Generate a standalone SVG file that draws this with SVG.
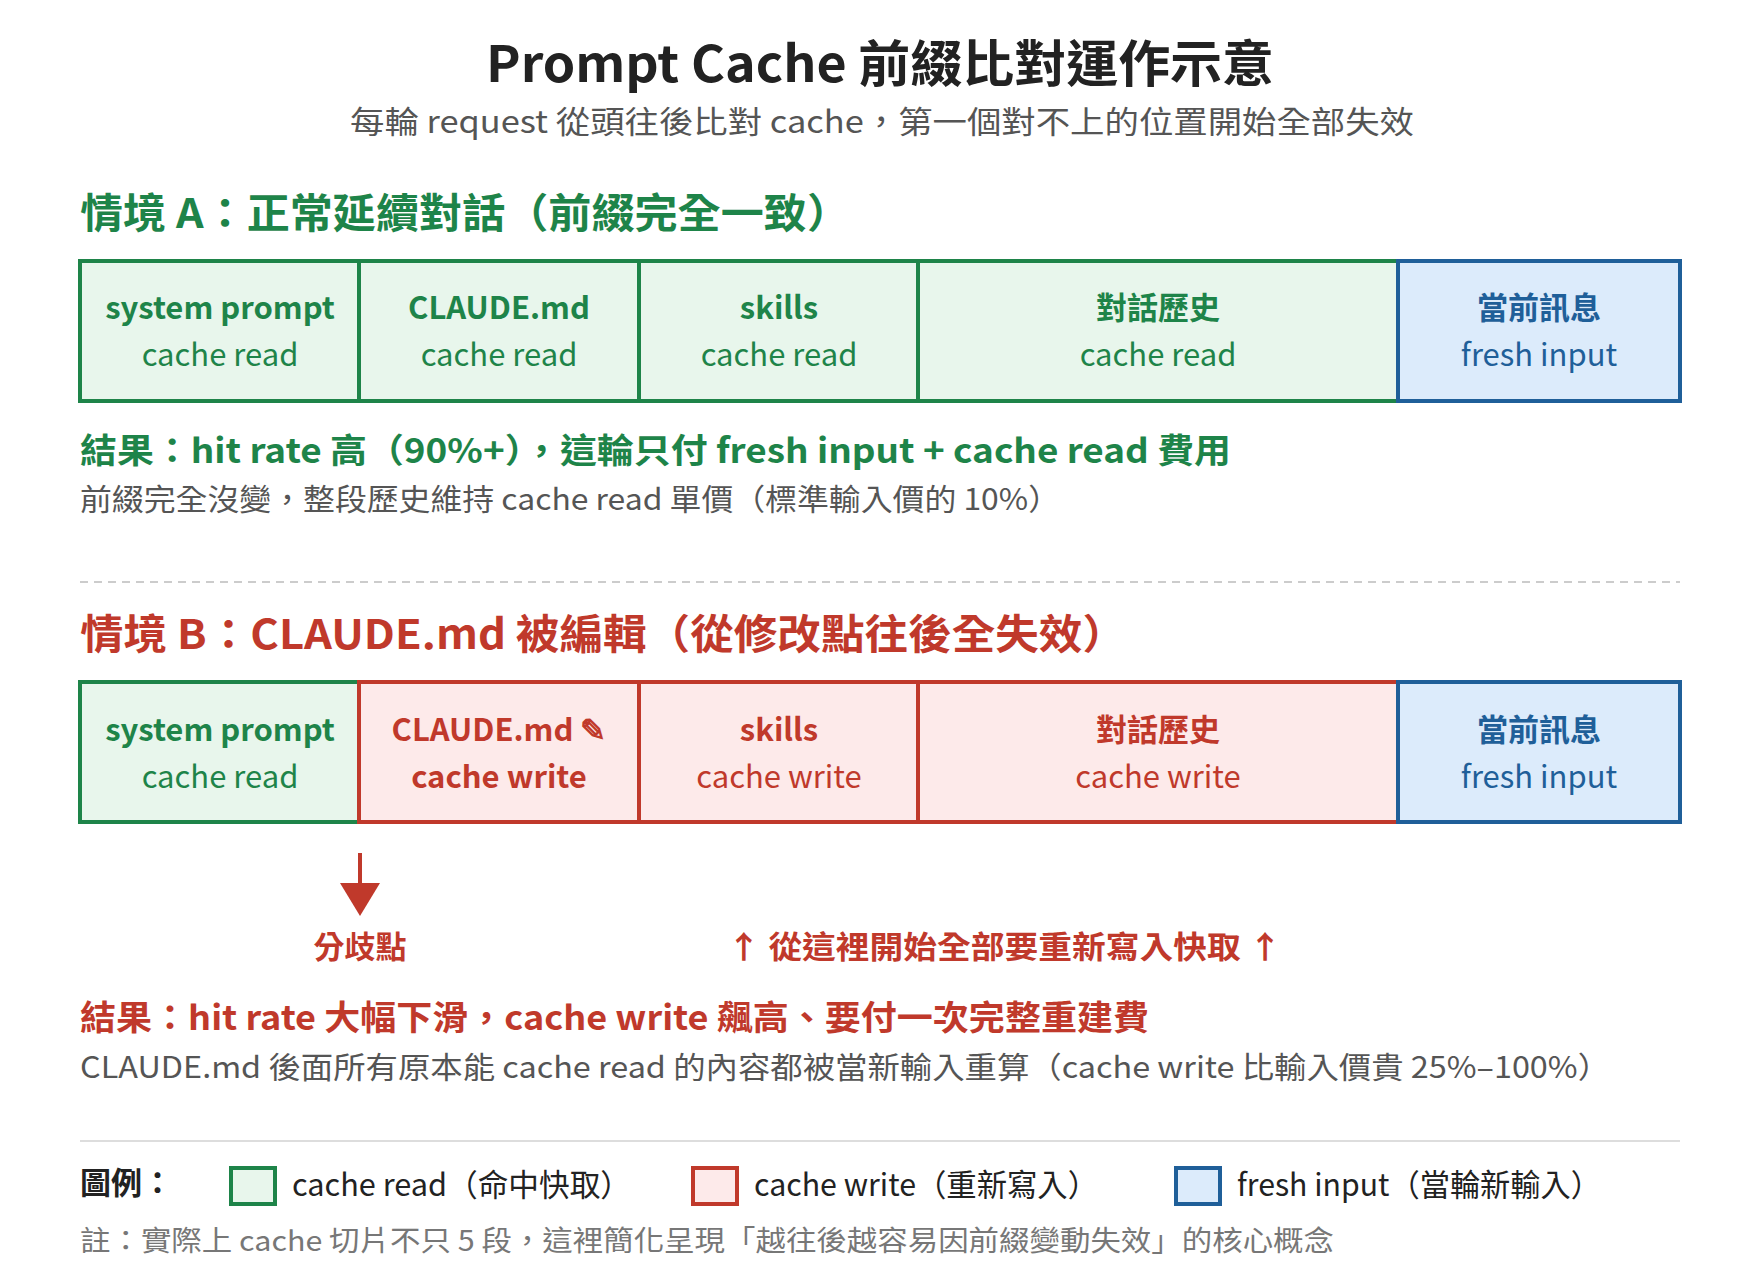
<svg xmlns="http://www.w3.org/2000/svg" width="1760" height="1280" viewBox="0 0 1760 1280">
<style>
text{font-family:"Noto Sans CJK TC","Noto Sans",sans-serif}
.g{fill:#e8f6ec;stroke:#1e8449;stroke-width:4}
.r{fill:#fdeaea;stroke:#c0392b;stroke-width:4}
.b{fill:#dcebfb;stroke:#1f5f99;stroke-width:4}
.t1{font-size:31px;font-weight:700;text-anchor:middle}
.t2{font-size:31px;text-anchor:middle}
.gt{fill:#1e8449}.rt{fill:#c0392b}.bt{fill:#1f5f99}
.gray{fill:#555}
</style>
<rect width="1760" height="1280" fill="#fff"/>
<text x="486" y="82" font-size="50" font-weight="700" fill="#222" textLength="788" lengthAdjust="spacingAndGlyphs">Prompt Cache 前綴比對運作示意</text>
<text x="350" y="133" font-size="31" class="gray" textLength="1064" lengthAdjust="spacingAndGlyphs">每輪 request 從頭往後比對 cache，第一個對不上的位置開始全部失效</text>
<text x="80" y="228" font-size="41" font-weight="700" class="gt" textLength="770" lengthAdjust="spacingAndGlyphs">情境 A：正常延續對話（前綴完全一致）</text>
<g id="a1"><rect class="g" x="80" y="261" width="279" height="140"/><text x="220" y="319" class="t1 gt">system prompt</text><text x="220" y="366" class="t2 gt">cache read</text></g>
<g id="a2"><rect class="g" x="359" y="261" width="280" height="140"/><text x="499" y="319" class="t1 gt">CLAUDE.md</text><text x="499" y="366" class="t2 gt">cache read</text></g>
<g id="a3"><rect class="g" x="639" y="261" width="279" height="140"/><text x="779" y="319" class="t1 gt">skills</text><text x="779" y="366" class="t2 gt">cache read</text></g>
<g id="a4"><rect class="g" x="918" y="261" width="480" height="140"/><text x="1158" y="319" class="t1 gt">對話歷史</text><text x="1158" y="366" class="t2 gt">cache read</text></g>
<g id="a5"><rect class="b" x="1398" y="261" width="282" height="140"/><text x="1539" y="319" class="t1 bt">當前訊息</text><text x="1539" y="366" class="t2 bt">fresh input</text></g>
<text x="80" y="463" font-size="34" font-weight="700" class="gt" textLength="1151" lengthAdjust="spacingAndGlyphs">結果：hit rate 高（90%+），這輪只付 fresh input + cache read 費用</text>
<text x="80" y="510" font-size="30" class="gray" textLength="980" lengthAdjust="spacingAndGlyphs">前綴完全沒變，整段歷史維持 cache read 單價（標準輸入價的 10%）</text>
<line x1="80" y1="582" x2="1680" y2="582" stroke="#ccc" stroke-width="2" stroke-dasharray="8 6"/>
<text x="80" y="649" font-size="41" font-weight="700" class="rt" textLength="1046" lengthAdjust="spacingAndGlyphs">情境 B：CLAUDE.md 被編輯（從修改點往後全失效）</text>
<g id="b1"><rect class="g" x="80" y="682" width="279" height="140"/><text x="220" y="741" class="t1 gt">system prompt</text><text x="220" y="788" class="t2 gt">cache read</text></g>
<g id="b2"><rect class="r" x="359" y="682" width="280" height="140"/><text x="499" y="741" class="t1 rt" font-weight="400">CLAUDE.md ✎</text><text x="499" y="788" class="t1 rt">cache write</text></g>
<g id="b3"><rect class="r" x="639" y="682" width="279" height="140"/><text x="779" y="741" class="t1 rt">skills</text><text x="779" y="788" class="t2 rt">cache write</text></g>
<g id="b4"><rect class="r" x="918" y="682" width="480" height="140"/><text x="1158" y="741" class="t1 rt">對話歷史</text><text x="1158" y="788" class="t2 rt">cache write</text></g>
<g id="b5"><rect class="b" x="1398" y="682" width="282" height="140"/><text x="1539" y="741" class="t1 bt">當前訊息</text><text x="1539" y="788" class="t2 bt">fresh input</text></g>
<g id="connectors"><line x1="360" y1="853" x2="360" y2="889" stroke="#c0392b" stroke-width="4"/><polygon points="340,883 380,883 360,916" fill="#c0392b"/></g>
<text x="360" y="958" class="t1 rt">分歧點</text>
<text x="727" y="958" font-size="31" font-weight="700" class="rt" textLength="555" lengthAdjust="spacingAndGlyphs">↑ 從這裡開始全部要重新寫入快取 ↑</text>
<text x="80" y="1030" font-size="34" font-weight="700" class="rt" textLength="1069" lengthAdjust="spacingAndGlyphs">結果：hit rate 大幅下滑，cache write 飆高、要付一次完整重建費</text>
<text x="80" y="1078" font-size="30" class="gray" textLength="1530" lengthAdjust="spacingAndGlyphs">CLAUDE.md 後面所有原本能 cache read 的內容都被當新輸入重算（cache write 比輸入價貴 25%–100%）</text>
<line x1="80" y1="1141" x2="1680" y2="1141" stroke="#ddd" stroke-width="2"/>
<g id="legend">
<text x="80" y="1194" font-size="31" font-weight="700" fill="#222">圖例：</text>
<rect class="g" x="231" y="1168" width="44" height="36"/><text x="292" y="1196" font-size="31" fill="#222" textLength="339" lengthAdjust="spacingAndGlyphs">cache read（命中快取）</text>
<rect class="r" x="693" y="1168" width="44" height="36"/><text x="754" y="1196" font-size="31" fill="#222" textLength="344" lengthAdjust="spacingAndGlyphs">cache write（重新寫入）</text>
<rect class="b" x="1176" y="1168" width="44" height="36"/><text x="1237" y="1196" font-size="31" fill="#222" textLength="364" lengthAdjust="spacingAndGlyphs">fresh input（當輪新輸入）</text>
</g>
<text x="80" y="1251" font-size="28" fill="#777" textLength="1254" lengthAdjust="spacingAndGlyphs">註：實際上 cache 切片不只 5 段，這裡簡化呈現「越往後越容易因前綴變動失效」的核心概念</text>
</svg>
